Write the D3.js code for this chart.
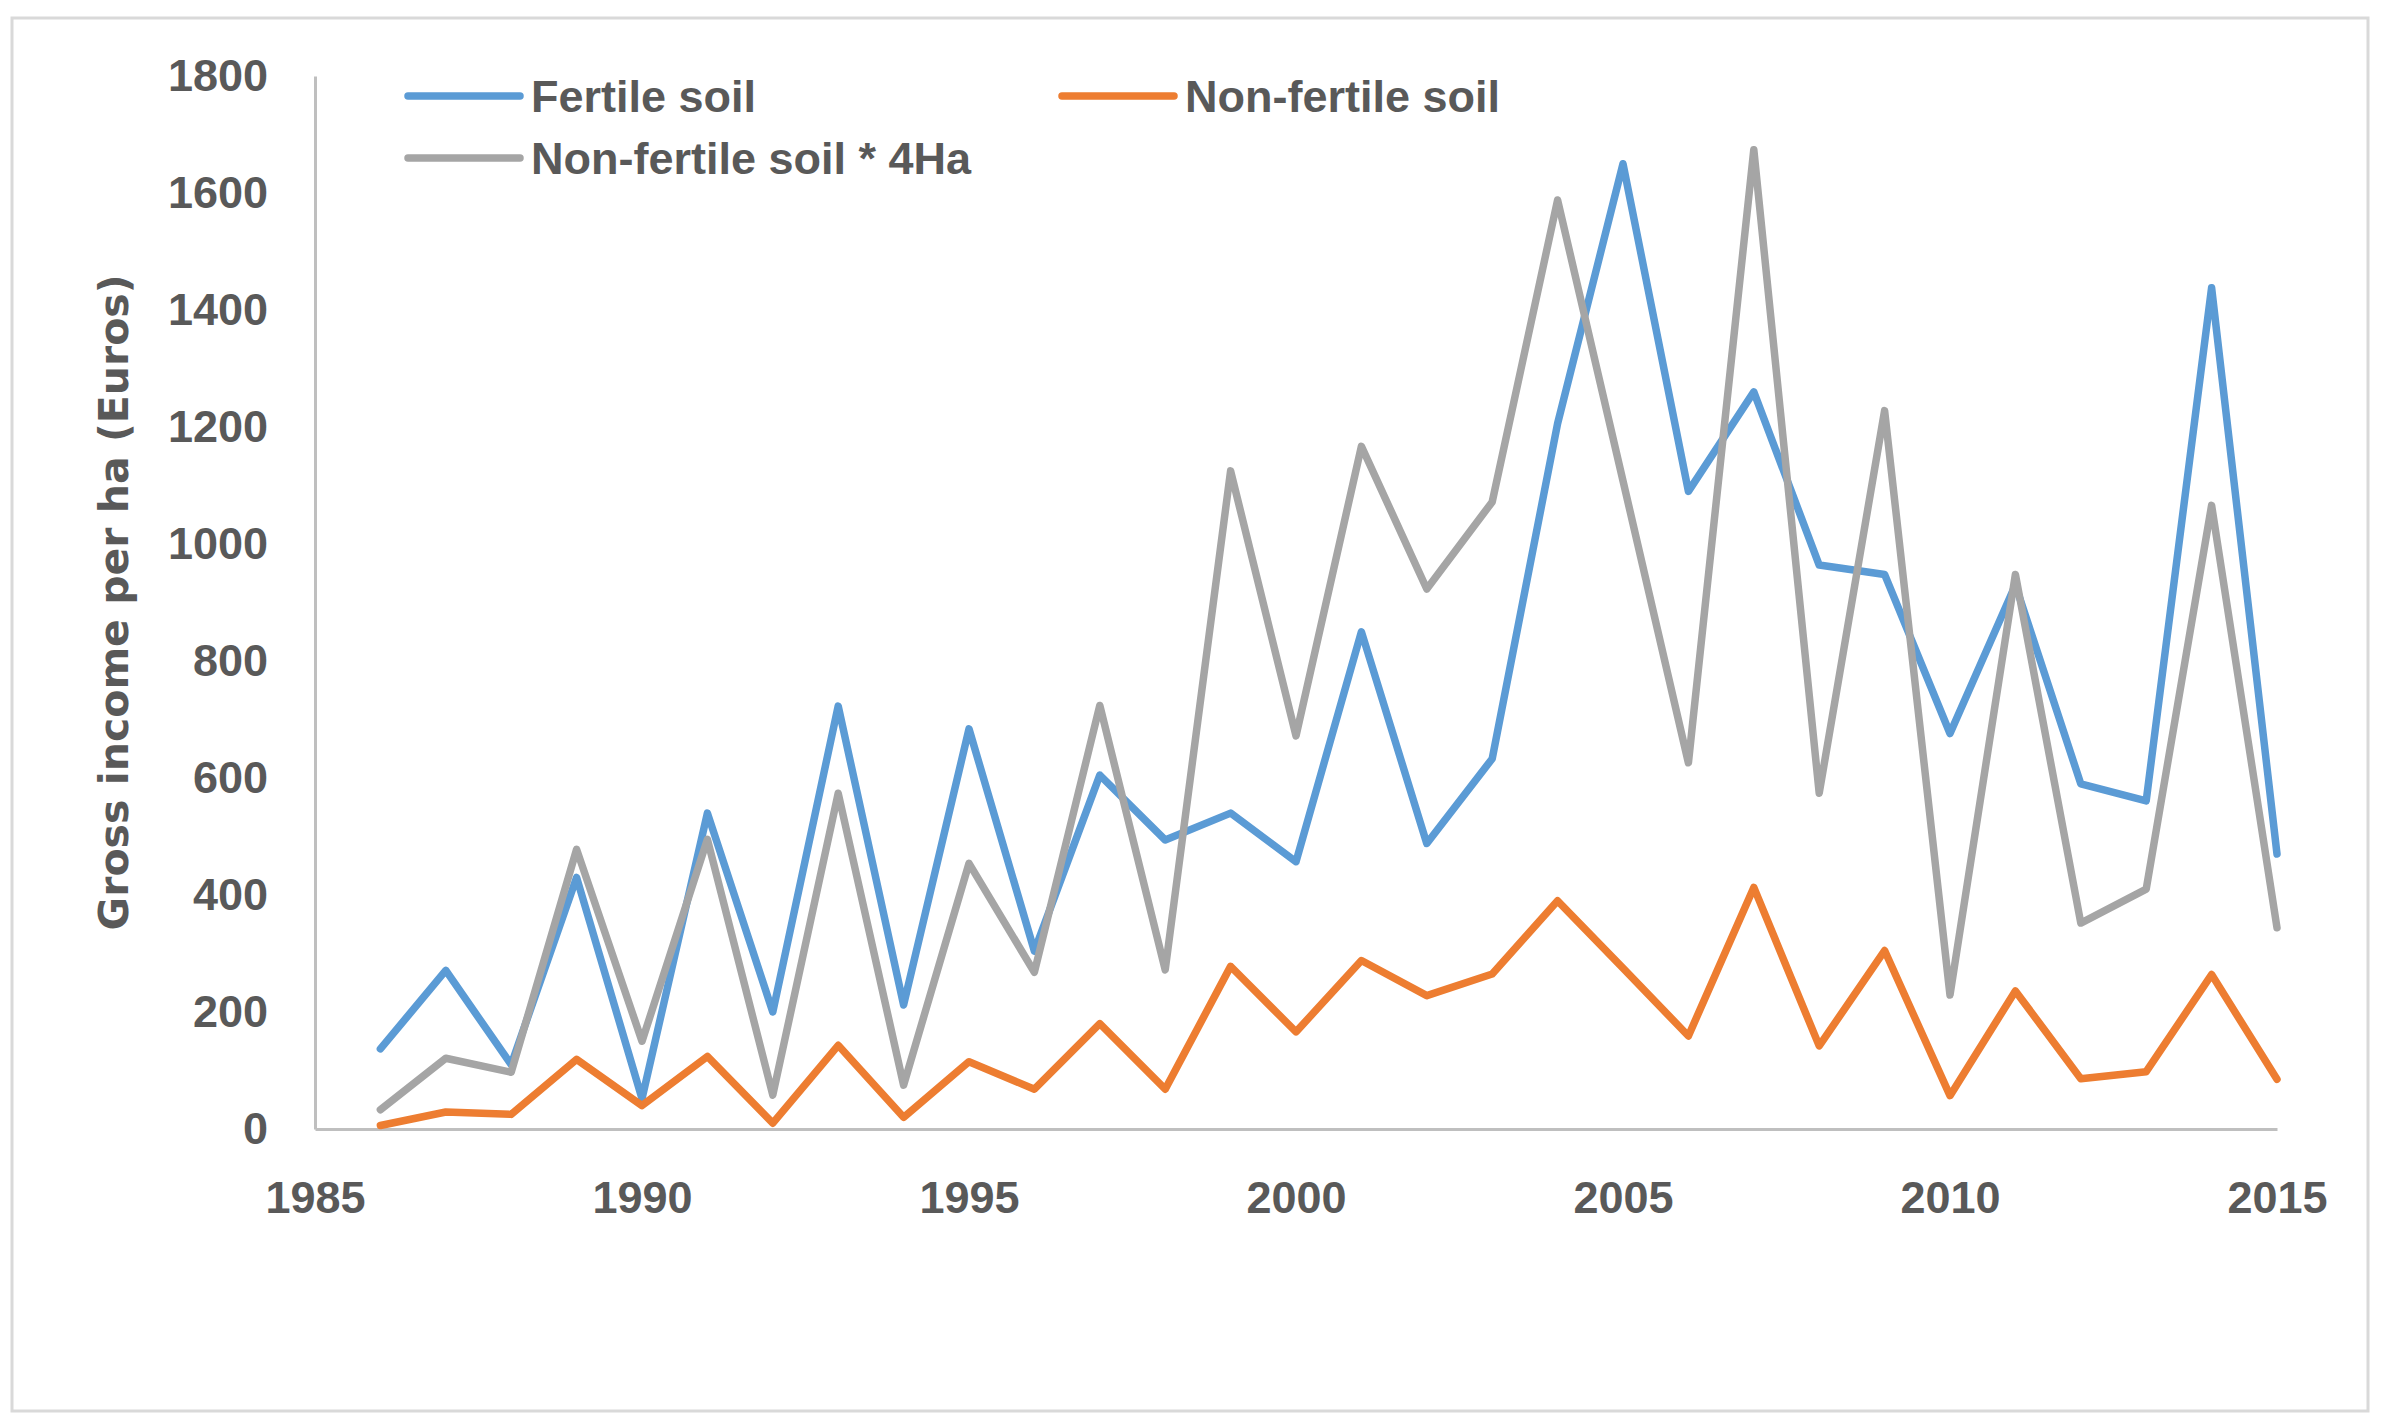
<!DOCTYPE html>
<html>
<head>
<meta charset="utf-8">
<script src="https://cdn.jsdelivr.net/npm/d3@7"></script>
<style>
  body { margin: 0; background: #fff; }
  svg { display: block; }
</style>
</head>
<body>
<div id="chart"></div>
<script>
// data
const years = [1986, 1987, 1988, 1989, 1990, 1991, 1992, 1993, 1994, 1995,
  1996, 1997, 1998, 1999, 2000, 2001, 2002, 2003, 2004, 2005,
  2006, 2007, 2008, 2009, 2010, 2011, 2012, 2013, 2014, 2015];

const fertile = [137, 271, 110, 430, 52, 540, 200, 723, 212, 684,
  304, 605, 494, 540, 457, 850, 488, 633, 1206, 1650,
  1090, 1260, 964, 948, 676, 930, 590, 561, 1438, 470];

const nonFertile = [6, 29, 25, 119, 40, 124, 10, 143, 20, 115,
  68, 180, 68, 278, 166, 288, 228, 265, 390, 275,
  159, 413, 142, 305, 57, 236, 86, 98, 264, 85];

const nonFertile4 = [33, 121, 97, 478, 150, 495, 58, 574, 75, 454,
  268, 724, 272, 1125, 672, 1167, 923, 1072, 1588, 1108,
  626, 1674, 574, 1228, 229, 948, 352, 410, 1066, 344];

const seriesNames = ["Fertile soil", "Non-fertile soil", "Non-fertile soil * 4Ha"];
const xTicks = [1985, 1990, 1995, 2000, 2005, 2010, 2015];
const yTicks = [0, 200, 400, 600, 800, 1000, 1200, 1400, 1600, 1800];

const W = 2385, H = 1428;
const colors = ["#5b9bd5", "#ed7d31", "#a5a5a5"];
const labelFont = "'Liberation Sans', Arial, sans-serif";

const svg = d3.select("#chart").append("svg")
  .attr("width", W)
  .attr("height", H);

svg.append("rect")
  .attr("width", W).attr("height", H)
  .attr("fill", "#fff");

// outer frame
svg.append("rect")
  .attr("x", 12).attr("y", 18)
  .attr("width", 2356).attr("height", 1393)
  .attr("fill", "none")
  .attr("stroke", "#d9d9d9")
  .attr("stroke-width", 3);

const x = d3.scaleLinear().domain([1985, 2015]).range([315, 2277]);
const y = d3.scaleLinear().domain([0, 1800]).range([1129, 76]);

// axes
const xAxis = svg.append("g")
  .attr("transform", "translate(0," + y(0) + ")")
  .call(d3.axisBottom(x).tickValues(xTicks).tickFormat(d3.format("d"))
    .tickSize(0).tickSizeOuter(0).tickPadding(52));

const yAxis = svg.append("g")
  .attr("transform", "translate(" + x(1985) + ",0)")
  .call(d3.axisLeft(y).tickValues(yTicks).tickFormat(d3.format("d"))
    .tickSize(0).tickSizeOuter(0).tickPadding(47));

[xAxis, yAxis].forEach(a => {
  a.select(".domain").attr("stroke", "#bfbfbf").attr("stroke-width", 3);
  a.selectAll("text")
    .attr("fill", "#595959")
    .style("font-family", labelFont)
    .style("font-size", "45px")
    .style("font-weight", "bold");
});

// axis title
svg.append("text")
  .attr("transform", "translate(114," + ((76 + 1129) / 2 + 0) + ") rotate(-90)")
  .attr("text-anchor", "middle")
  .attr("dy", "0.35em")
  .attr("fill", "#595959")
  .style("font-family", "'DejaVu Sans', Verdana, sans-serif")
  .style("font-size", "41px")
  .style("font-weight", "bold")
  .text("Gross income per ha (Euros)");

// lines
const allSeries = [fertile, nonFertile, nonFertile4];
const line = d3.line()
  .x((d, i) => x(years[i]))
  .y(d => y(d));

svg.append("g")
  .selectAll("path")
  .data(allSeries)
  .join("path")
  .attr("d", d => line(d))
  .attr("fill", "none")
  .attr("stroke", (d, i) => colors[i])
  .attr("stroke-width", 7.5)
  .attr("stroke-linejoin", "round")
  .attr("stroke-linecap", "round");

// legend
const legendPos = [[408, 96], [1062, 96], [408, 158]];
const legend = svg.append("g")
  .selectAll("g")
  .data(seriesNames)
  .join("g")
  .attr("transform", (d, i) => "translate(" + legendPos[i][0] + "," + legendPos[i][1] + ")");

legend.append("line")
  .attr("x1", 0).attr("x2", 112)
  .attr("stroke", (d, i) => colors[i])
  .attr("stroke-width", 7.5)
  .attr("stroke-linecap", "round");

legend.append("text")
  .attr("x", 123)
  .attr("dy", "0.35em")
  .attr("fill", "#595959")
  .style("font-family", labelFont)
  .style("font-size", "45px")
  .style("font-weight", "bold")
  .text(d => d);
</script>
</body>
</html>
